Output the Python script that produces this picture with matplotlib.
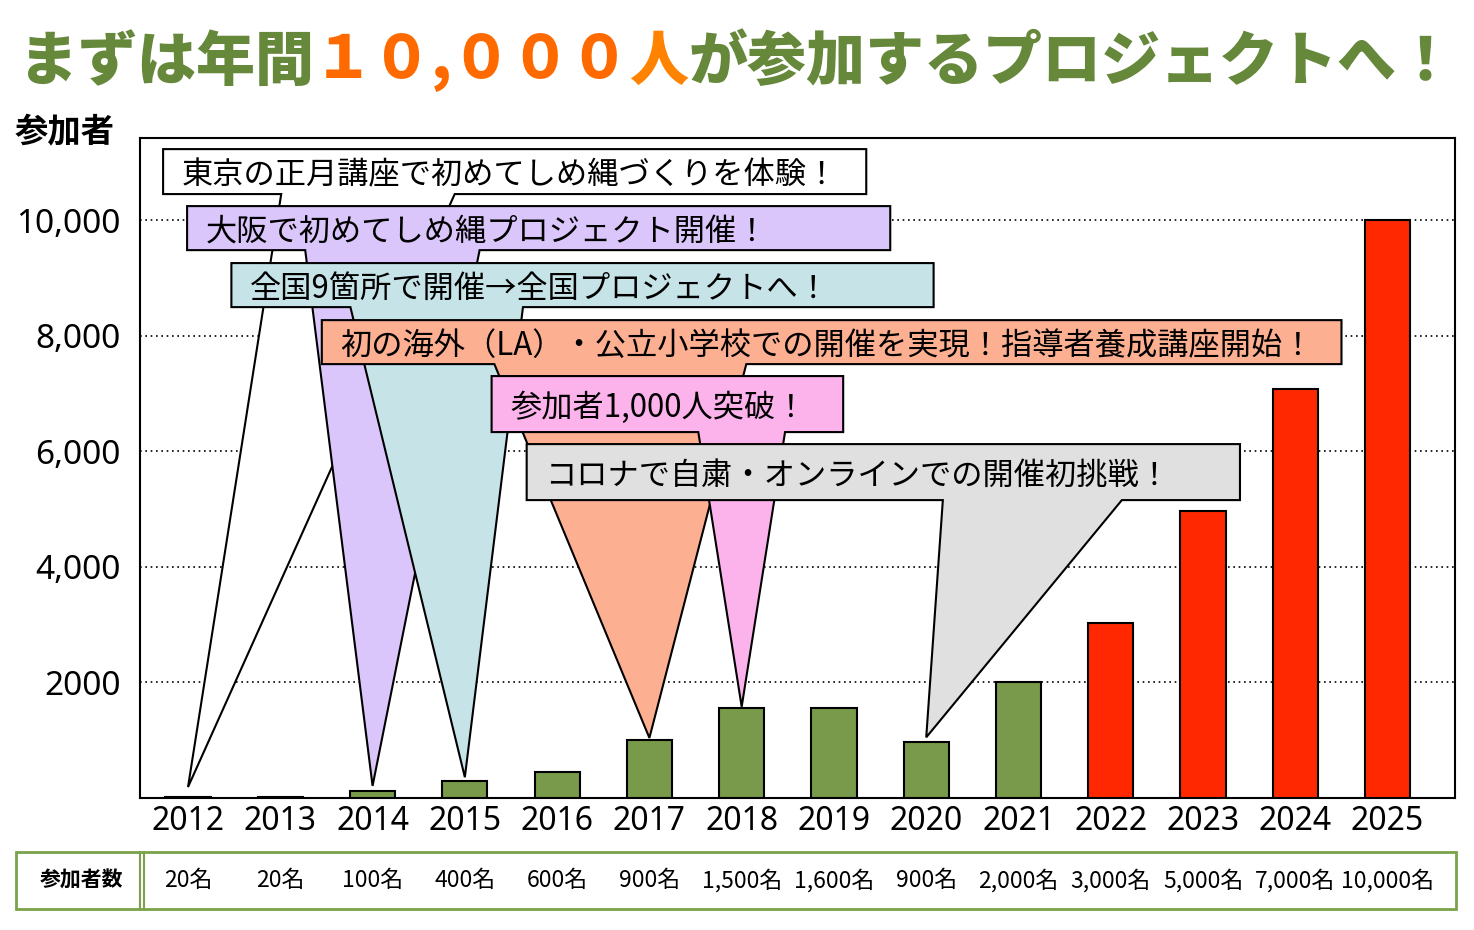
import matplotlib
matplotlib.use("Agg")
import matplotlib.pyplot as plt
from matplotlib.patches import Polygon, Rectangle
from matplotlib.transforms import blended_transform_factory
import numpy as np

plt.rcParams['font.family'] = ['Noto Sans CJK JP', 'DejaVu Sans']

# data
years = ['2012', '2013', '2014', '2015', '2016', '2017', '2018',
         '2019', '2020', '2021', '2022', '2023', '2024', '2025']
bar_values = [20, 20, 120, 290, 450, 1000, 1550, 1550, 970, 2000,
              3020, 4970, 7080, 10000]
table_labels = ['20名', '20名', '100名', '400名', '600名', '900名', '1,500名',
                '1,600名', '900名', '2,000名', '3,000名', '5,000名',
                '7,000名', '10,000名']
ytick_values = [2000, 4000, 6000, 8000, 10000]
ytick_labels = ['2000', '4,000', '6,000', '8,000', '10,000']

# callouts: text, target bar index, colour
callout_texts = ['東京の正月講座で初めてしめ縄づくりを体験！',
                 '大阪で初めてしめ縄プロジェクト開催！',
                 '全国9箇所で開催→全国プロジェクトへ！',
                 '初の海外（LA）・公立小学校での開催を実現！指導者養成講座開始！',
                 '参加者1,000人突破！',
                 'コロナで自粛・オンラインでの開催初挑戦！']
callout_targets = [0, 2, 3, 5, 6, 8]
callout_colors = ['#ffffff', '#dac6fa', '#c6e3e7', '#fdaf92', '#fcb3ec', '#e0e0e0']
# layout of the callout boxes (x0, x1, y0, y1) and wedge base (b0, b1)
callout_boxes = [(-0.27, 7.35, 10450, 11228),
                 (-0.01, 7.61, 9480, 10242),
                 (0.47, 8.08, 8494, 9256),
                 (1.45, 12.50, 7508, 8269),
                 (3.29, 7.10, 6332, 7301),
                 (3.67, 11.40, 5155, 6124)]
callout_bases = [(1.01, 2.89), (1.27, 3.16), (1.76, 3.63),
                 (3.32, 6.05), (5.53, 6.47), (8.18, 10.12)]
tip_gap = [170, 90, 70, 40, 30, 80]

green = '#789a4a'
red = '#ff2800'
title_green = '#66883a'

fig = plt.figure(figsize=(14.74, 9.30), dpi=100)
ax = fig.add_axes([0.095, 0.1419, 0.8921, 0.7097])

x = np.arange(len(years))
colors = [green] * 10 + [red] * 4
ax.bar(x, bar_values, width=0.49, color=colors, edgecolor='black',
       linewidth=1.5, zorder=3)

for v in ytick_values:
    ax.axhline(v, color='black', lw=1.2, ls=(0, (1, 2.2)), zorder=1)

ax.set_xlim(-0.52, 13.73)
ax.set_ylim(0, 11420)
ax.set_xticks(x)
ax.set_xticklabels(years, fontsize=23, family=['Noto Sans', 'DejaVu Sans'])
ax.set_yticks(ytick_values)
ax.set_yticklabels(ytick_labels, fontsize=24, family=['Noto Sans', 'DejaVu Sans'])
ax.tick_params(length=0, pad=14, axis='y')
ax.tick_params(length=0, pad=5, axis='x')
for s in ax.spines.values():
    s.set_linewidth(1.5)

# callouts
for i, txt in enumerate(callout_texts):
    x0, x1, y0, y1 = callout_boxes[i]
    b0, b1 = callout_bases[i]
    t = callout_targets[i]
    tip = (t, bar_values[t] + tip_gap[i])
    pts = [(x0, y1), (x1, y1), (x1, y0), (b1, y0), tip, (b0, y0), (x0, y0)]
    ax.add_patch(Polygon(pts, closed=True, facecolor=callout_colors[i],
                         edgecolor='black', lw=1.5, zorder=5 + i,
                         joinstyle='miter'))
    ax.text(x0 + 0.2, (y0 + y1) / 2, txt, fontsize=22.5, va='center_baseline',
            ha='left', zorder=5 + i, color='black')

# y label
fig.text(15 / 1474, 1 - 133 / 930, '参加者', fontsize=24, va='center',
         ha='left', fontweight='bold')

# title made of coloured pieces
title_parts = [('まずは年間', title_green), ('１０,０００', '#ff6a00'),
               ('人', '#ff8200'), ('が参加するプロジェクトへ！', title_green)]
renderer = fig.canvas.get_renderer()
texts = []
for s, c in title_parts:
    texts.append(fig.text(0, 1 - 62 / 930, s, fontsize=42.5, color=c,
                          fontweight='heavy', va='center', ha='left'))
widths = [t.get_window_extent(renderer).width for t in texts]
total = sum(widths)
cur = (fig.bbox.width - total) / 2
for t, w in zip(texts, widths):
    t.set_x(cur / fig.bbox.width)
    cur += w

# table under the chart
tl = 16 / 1474
tb = 1 - 909 / 930
tw = (1456 - 16) / 1474
th = (909 - 852) / 930
fig.patches.append(Rectangle((tl, tb), tw, th, transform=fig.transFigure,
                             fill=False, edgecolor='#7aa24a', lw=2))
for px in (140, 144):
    fig.lines.append(plt.Line2D([px / 1474, px / 1474], [tb, tb + th],
                                transform=fig.transFigure, color='#7aa24a', lw=1.5))
fig.text(82 / 1474, tb + th / 2, '参加者数', fontsize=15, fontweight='bold',
         ha='center', va='center')
trans = blended_transform_factory(ax.transData, fig.transFigure)
for xi, lab in zip(x, table_labels):
    ax.text(xi, tb + th / 2, lab, transform=trans, fontsize=16.5, ha='center',
            va='center', clip_on=False)

fig.savefig('out.png', dpi=100)
